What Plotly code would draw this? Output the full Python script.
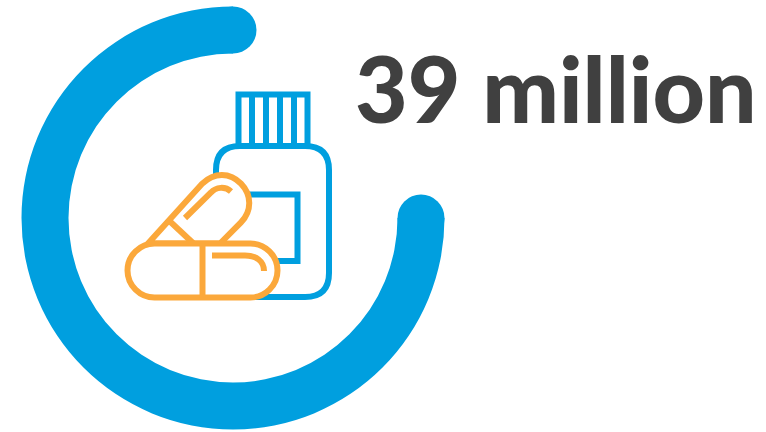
import numpy as np
import plotly.graph_objects as go

# Values shown by the ring and headline
filled_share = 75
open_share = 25
headline = "39 million"

BLUE = "#009FDF"
ORANGE = "#FBA83B"
INK = "#404040"
W, H = 766, 432

# Ring geometry in canvas pixels
cx, cy = 233, 218
outer_r, inner_r = 211.5, 164.5
mid_r = (outer_r + inner_r) / 2

# Round caps sit at both ends of the filled sweep (counter-clockwise from 12 o'clock)
sweep = 2 * np.pi * filled_share / (filled_share + open_share)
cap_x = [cx, cx - mid_r * np.sin(sweep)]
cap_y = [cy - mid_r, cy - mid_r * np.cos(sweep)]

fig = go.Figure()

fig.add_trace(go.Scatter(
    x=cap_x, y=cap_y, mode="markers",
    marker=dict(size=outer_r - inner_r, color=BLUE, line=dict(width=0)),
    hoverinfo="skip", showlegend=False,
))

# The open part comes first, running clockwise from 12 o'clock
fig.add_trace(go.Pie(
    values=[open_share, filled_share], sort=False, direction="clockwise", rotation=0,
    hole=inner_r / outer_r,
    marker=dict(colors=["rgba(0,0,0,0)", BLUE], line=dict(width=0)),
    textinfo="none", hoverinfo="skip", showlegend=False,
    domain=dict(
        x=[(cx - outer_r) / W, (cx + outer_r) / W],
        y=[1 - (cy + outer_r) / H, 1 - (cy - outer_r) / H],
    ),
))


def stroke(path, color, fill=None, width=6):
    return dict(
        type="path", xref="x", yref="y", path=path, layer="above",
        line=dict(color=color, width=width),
        fillcolor=fill if fill else "rgba(0,0,0,0)",
    )


shapes = [
    # Bottle lid with its ridges
    stroke("M238.5,145 L238.5,94.5 L307.5,94.5 L307.5,145", BLUE),
    stroke("M252,95 L252,145", BLUE),
    stroke("M266,95 L266,145", BLUE),
    stroke("M280,95 L280,145", BLUE),
    stroke("M294,95 L294,145", BLUE),
    # Bottle body
    stroke("M240,146 L305,146 Q329,146 329,170 L329,273 Q329,297 305,297 "
           "L240,297 Q216,297 216,273 L216,170 Q216,146 240,146 Z", BLUE, "white"),
    # Label on the bottle
    stroke("M240,194.5 L297.5,194.5 L297.5,261 L265,261", BLUE),
    # Diagonal capsule
    stroke("M202.3,183.6 C214,172 230,172 241,183.6 C252,195 252,211 241,222.4 "
           "L220,243.5 L148,243.5 Z", ORANGE, "white"),
    stroke("M170,221.5 L193,243", ORANGE),
    stroke("M185,218 L211,192.5 C216,187 225,186 231,191.5", ORANGE),
    # Horizontal capsule
    stroke("M154.5,243.5 L250.5,243.5 C265,243.5 277.5,255.5 277.5,270.5 "
           "C277.5,285.5 265,297.5 250.5,297.5 L154.5,297.5 "
           "C140,297.5 127.5,285.5 127.5,270.5 C127.5,255.5 140,243.5 154.5,243.5 Z",
           ORANGE, "white"),
    stroke("M202.5,243.5 L202.5,297.5", ORANGE),
    stroke("M212,255.5 L245,255.5 C256,255.5 264,261 264,271", ORANGE),
]

fig.update_layout(
    width=W, height=H,
    margin=dict(l=0, r=0, t=0, b=0),
    paper_bgcolor="white", plot_bgcolor="white",
    xaxis=dict(range=[0, W], visible=False, fixedrange=True),
    yaxis=dict(range=[H, 0], visible=False, fixedrange=True),
    shapes=shapes,
    annotations=[dict(
        x=353, y=87, xref="x", yref="y", xanchor="left", yanchor="middle",
        text=headline, showarrow=False,
        font=dict(family="Lato", size=91, color=INK, weight=900),
    )],
)

fig.write_html("out.html", config=dict(displayModeBar=False))
